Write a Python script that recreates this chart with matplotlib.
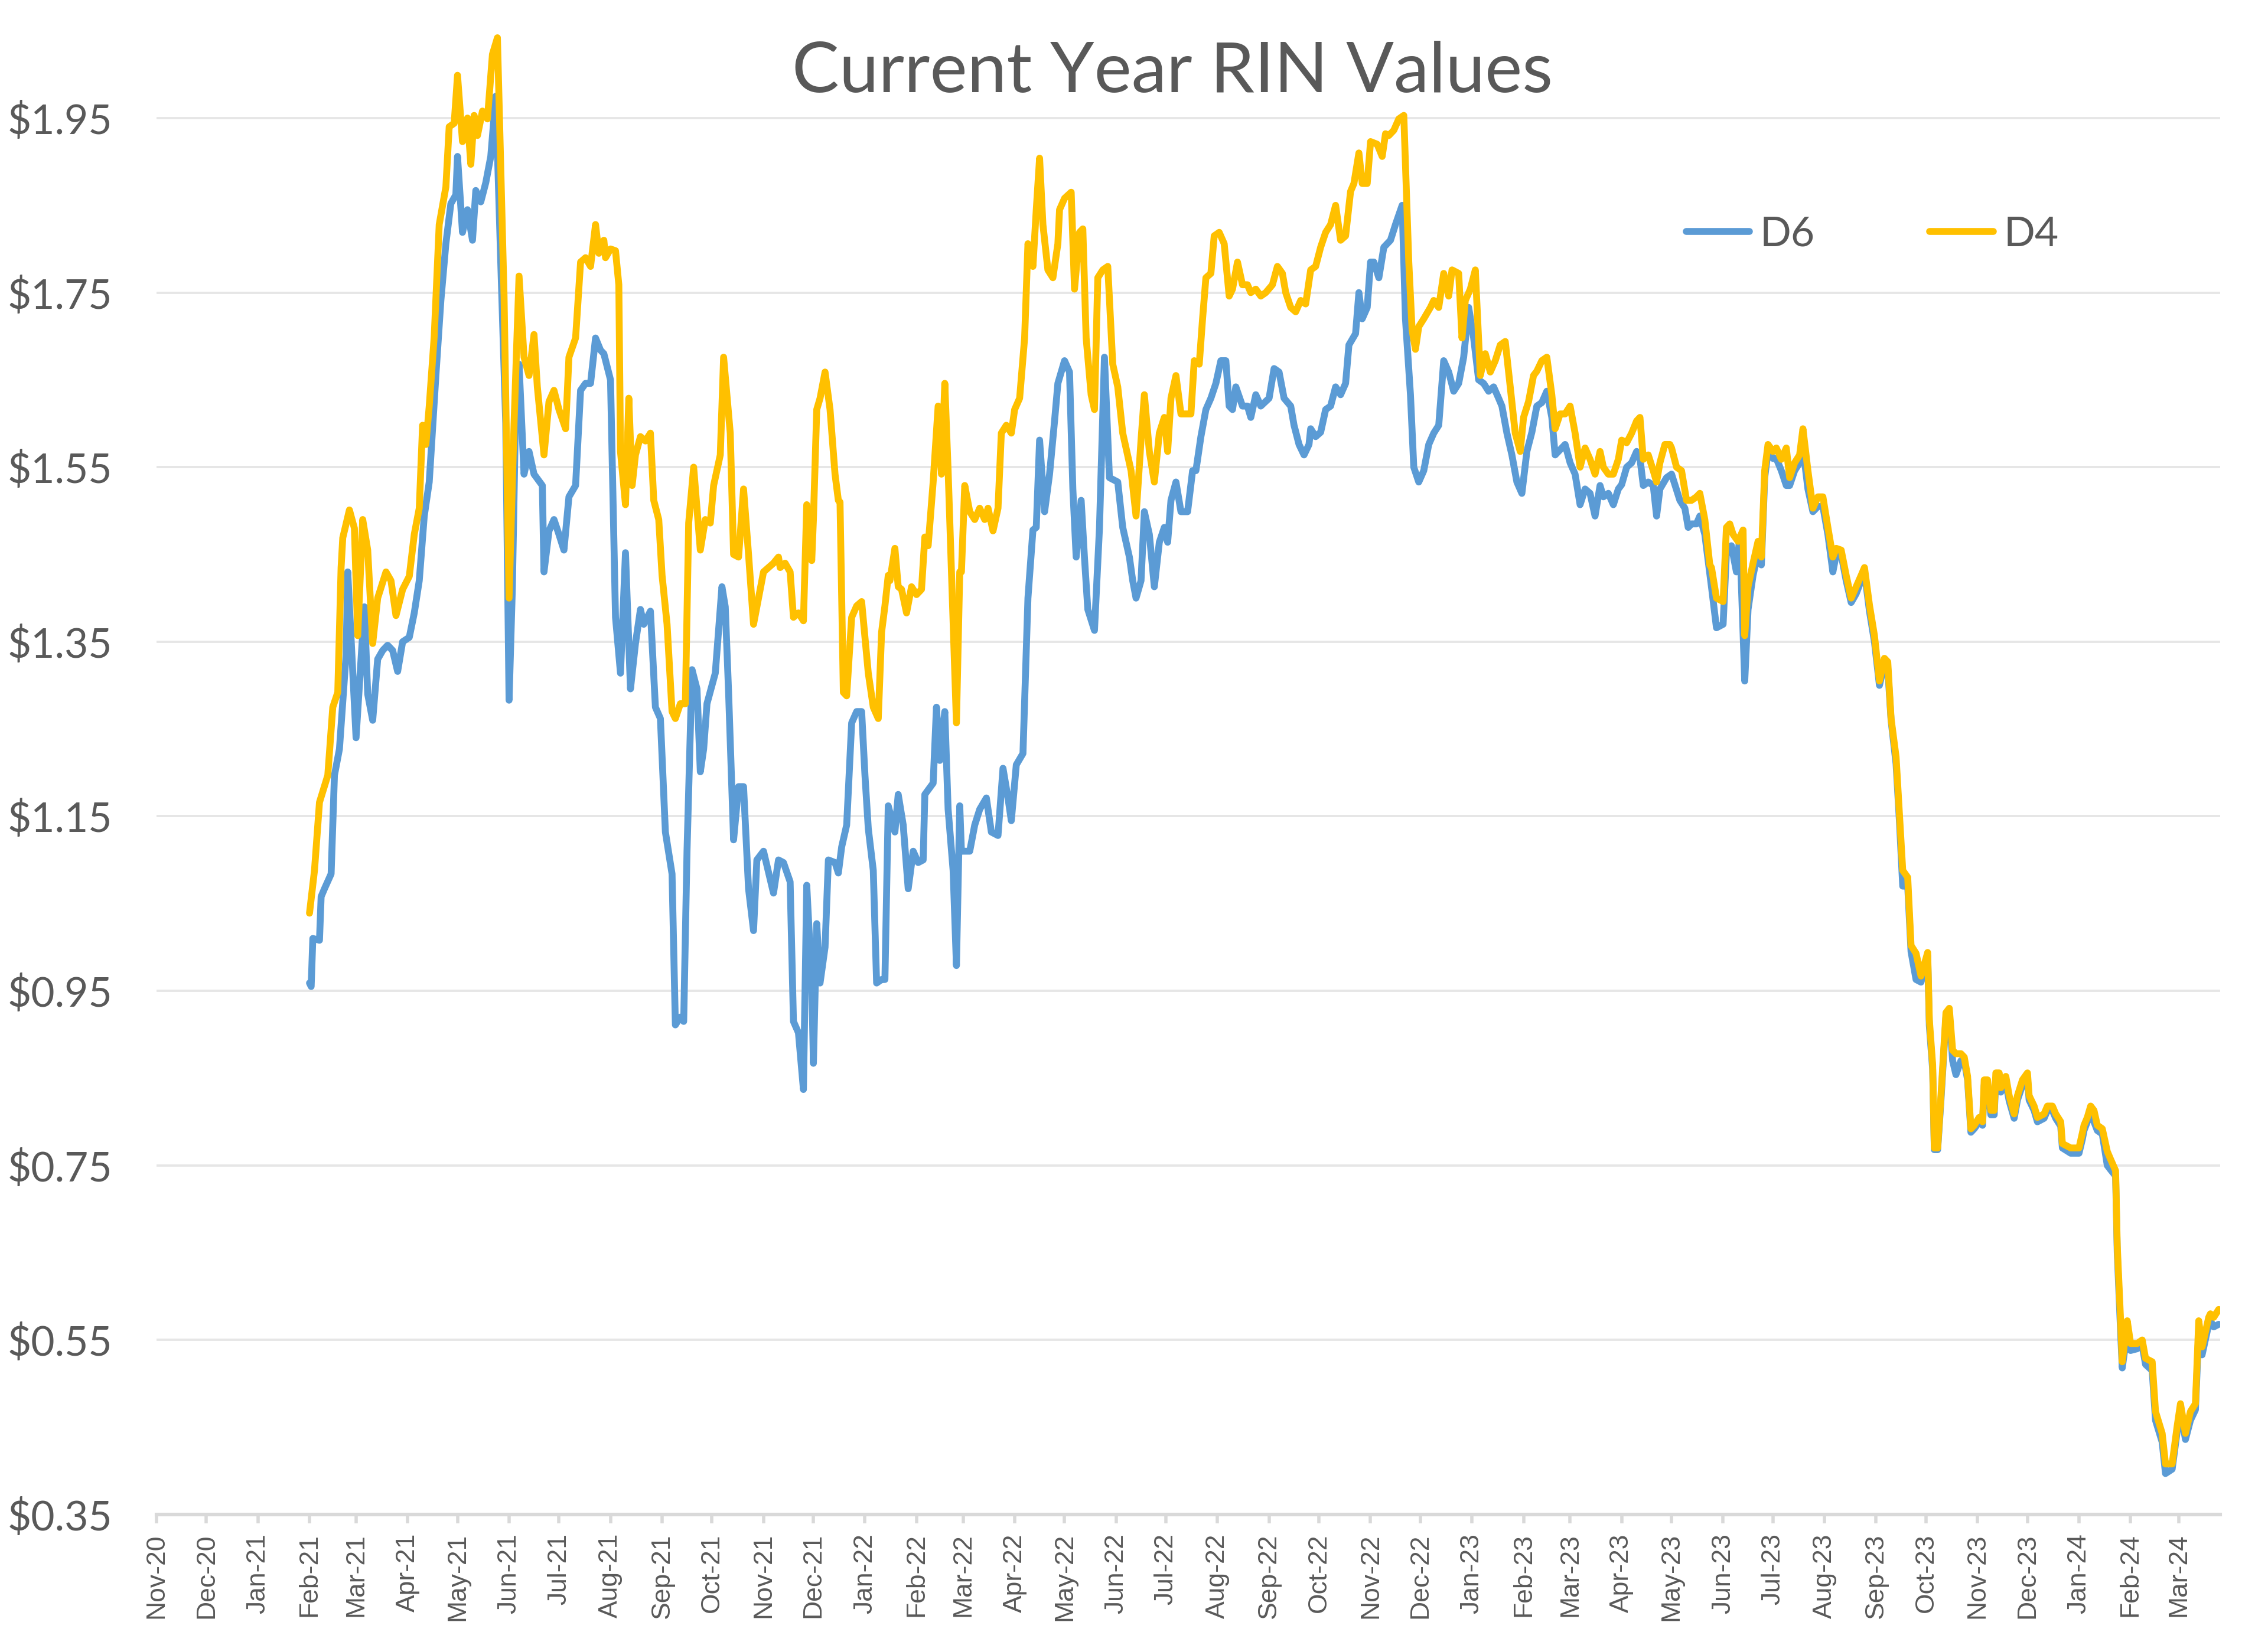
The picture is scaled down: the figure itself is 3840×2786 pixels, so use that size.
import numpy as np
import pandas as pd
import matplotlib
matplotlib.use("Agg")
import matplotlib.pyplot as plt
import matplotlib.dates as mdates
from matplotlib.ticker import FuncFormatter

# D6 RIN price
d6_dates = [
    "2021-02-01", "2021-02-02", "2021-02-03", "2021-02-07", "2021-02-08", "2021-02-10", "2021-02-14", "2021-02-16",
    "2021-02-19", "2021-02-23", "2021-02-24", "2021-03-01", "2021-03-06", "2021-03-08", "2021-03-11", "2021-03-14",
    "2021-03-17", "2021-03-20", "2021-03-23", "2021-03-26", "2021-03-29", "2021-04-02", "2021-04-05", "2021-04-08",
    "2021-04-11", "2021-04-14", "2021-04-18", "2021-04-21", "2021-04-24", "2021-04-27", "2021-04-30", "2021-05-01",
    "2021-05-04", "2021-05-07", "2021-05-10", "2021-05-12", "2021-05-15", "2021-05-18", "2021-05-21", "2021-05-24",
    "2021-05-27", "2021-05-30", "2021-06-01", "2021-06-03", "2021-06-05", "2021-06-07", "2021-06-10", "2021-06-13",
    "2021-06-16", "2021-06-21", "2021-06-22", "2021-06-25", "2021-06-28", "2021-07-01", "2021-07-04", "2021-07-07",
    "2021-07-11", "2021-07-14", "2021-07-17", "2021-07-20", "2021-07-23", "2021-07-26", "2021-07-28", "2021-08-01",
    "2021-08-04", "2021-08-07", "2021-08-10", "2021-08-13", "2021-08-16", "2021-08-19", "2021-08-21", "2021-08-25",
    "2021-08-28", "2021-08-31", "2021-09-03", "2021-09-07", "2021-09-09", "2021-09-12", "2021-09-14", "2021-09-16",
    "2021-09-19", "2021-09-22", "2021-09-24", "2021-09-26", "2021-09-28", "2021-10-03", "2021-10-07", "2021-10-09",
    "2021-10-11", "2021-10-14", "2021-10-17", "2021-10-20", "2021-10-23", "2021-10-26", "2021-10-28", "2021-11-01",
    "2021-11-07", "2021-11-10", "2021-11-13", "2021-11-17", "2021-11-19", "2021-11-22", "2021-11-25", "2021-11-27",
    "2021-11-30", "2021-12-01", "2021-12-03", "2021-12-05", "2021-12-08", "2021-12-10", "2021-12-14", "2021-12-16",
    "2021-12-18", "2021-12-21", "2021-12-24", "2021-12-27", "2021-12-30", "2022-01-01", "2022-01-03", "2022-01-06",
    "2022-01-08", "2022-01-11", "2022-01-13", "2022-01-15", "2022-01-19", "2022-01-21", "2022-01-24", "2022-01-27",
    "2022-01-30", "2022-02-02", "2022-02-05", "2022-02-06", "2022-02-11", "2022-02-13", "2022-02-15", "2022-02-18",
    "2022-02-20", "2022-02-23", "2022-02-25", "2022-02-27", "2022-02-28", "2022-03-03", "2022-03-05", "2022-03-08",
    "2022-03-11", "2022-03-15", "2022-03-18", "2022-03-22", "2022-03-25", "2022-03-28", "2022-03-30", "2022-04-02",
    "2022-04-06", "2022-04-09", "2022-04-12", "2022-04-14", "2022-04-16", "2022-04-19", "2022-04-22", "2022-04-25",
    "2022-04-27", "2022-05-01", "2022-05-04", "2022-05-06", "2022-05-08", "2022-05-11", "2022-05-13", "2022-05-15",
    "2022-05-19", "2022-05-22", "2022-05-25", "2022-05-28", "2022-06-02", "2022-06-05", "2022-06-09", "2022-06-11",
    "2022-06-13", "2022-06-16", "2022-06-18", "2022-06-21", "2022-06-24", "2022-06-27", "2022-06-30", "2022-07-02",
    "2022-07-04", "2022-07-07", "2022-07-10", "2022-07-14", "2022-07-17", "2022-07-19", "2022-07-22", "2022-07-25",
    "2022-07-28", "2022-07-31", "2022-08-03", "2022-08-06", "2022-08-08", "2022-08-10", "2022-08-12", "2022-08-16",
    "2022-08-19", "2022-08-21", "2022-08-24", "2022-08-27", "2022-09-01", "2022-09-04", "2022-09-07", "2022-09-10",
    "2022-09-14", "2022-09-16", "2022-09-19", "2022-09-22", "2022-09-25", "2022-09-26", "2022-09-29", "2022-10-02",
    "2022-10-05", "2022-10-08", "2022-10-11", "2022-10-14", "2022-10-17", "2022-10-19", "2022-10-23", "2022-10-25",
    "2022-10-27", "2022-10-30", "2022-11-01", "2022-11-03", "2022-11-06", "2022-11-09", "2022-11-13", "2022-11-16",
    "2022-11-20", "2022-11-22", "2022-11-25", "2022-11-27", "2022-11-30", "2022-12-03", "2022-12-06", "2022-12-09",
    "2022-12-12", "2022-12-15", "2022-12-18", "2022-12-21", "2022-12-24", "2022-12-27", "2022-12-30", "2023-01-02",
    "2023-01-05", "2023-01-08", "2023-01-11", "2023-01-14", "2023-01-17", "2023-01-19", "2023-01-22", "2023-01-25",
    "2023-01-28", "2023-01-31", "2023-02-03", "2023-02-06", "2023-02-09", "2023-02-12", "2023-02-15", "2023-02-18",
    "2023-02-20", "2023-02-23", "2023-02-26", "2023-03-01", "2023-03-04", "2023-03-07", "2023-03-10", "2023-03-13",
    "2023-03-16", "2023-03-19", "2023-03-21", "2023-03-24", "2023-03-27", "2023-03-30", "2023-04-01", "2023-04-04",
    "2023-04-07", "2023-04-10", "2023-04-12", "2023-04-14", "2023-04-17", "2023-04-20", "2023-04-22", "2023-04-24",
    "2023-04-28", "2023-05-01", "2023-05-03", "2023-05-06", "2023-05-09", "2023-05-11", "2023-05-13", "2023-05-16",
    "2023-05-18", "2023-05-21", "2023-05-25", "2023-05-28", "2023-06-01", "2023-06-03", "2023-06-06", "2023-06-09",
    "2023-06-11", "2023-06-14", "2023-06-16", "2023-06-19", "2023-06-22", "2023-06-24", "2023-06-26", "2023-06-28",
    "2023-07-01", "2023-07-03", "2023-07-06", "2023-07-09", "2023-07-11", "2023-07-14", "2023-07-17", "2023-07-19",
    "2023-07-22", "2023-07-25", "2023-07-28", "2023-07-31", "2023-08-03", "2023-08-06", "2023-08-08", "2023-08-11",
    "2023-08-14", "2023-08-17", "2023-08-20", "2023-08-23", "2023-08-25", "2023-08-28", "2023-08-31", "2023-09-03",
    "2023-09-06", "2023-09-08", "2023-09-10", "2023-09-13", "2023-09-15", "2023-09-17", "2023-09-20", "2023-09-22",
    "2023-09-25", "2023-09-28",
    "2023-10-02", "2023-10-03", "2023-10-05", "2023-10-06", "2023-10-08", "2023-10-10", "2023-10-13", "2023-10-15",
    "2023-10-17", "2023-10-19", "2023-10-22", "2023-10-24", "2023-10-26", "2023-10-28", "2023-10-30", "2023-11-02",
    "2023-11-04", "2023-11-05", "2023-11-07", "2023-11-09", "2023-11-11", "2023-11-12", "2023-11-14", "2023-11-15",
    "2023-11-18", "2023-11-20", "2023-11-23", "2023-11-25", "2023-11-28", "2023-12-01", "2023-12-02", "2023-12-05",
    "2023-12-07", "2023-12-11", "2023-12-13", "2023-12-16", "2023-12-18", "2023-12-21", "2023-12-22", "2023-12-27",
    "2024-01-01", "2024-01-03", "2024-01-04", "2024-01-06", "2024-01-08", "2024-01-10", "2024-01-12", "2024-01-15",
    "2024-01-18", "2024-01-20", "2024-01-23", "2024-01-24", "2024-01-26", "2024-01-27", "2024-01-30", "2024-02-01",
    "2024-02-05", "2024-02-08", "2024-02-10", "2024-02-14", "2024-02-16", "2024-02-20", "2024-02-22", "2024-02-26",
    "2024-02-29", "2024-03-02", "2024-03-05", "2024-03-08", "2024-03-11", "2024-03-13", "2024-03-15", "2024-03-19",
    "2024-03-20", "2024-03-22", "2024-03-25",
]
d6_vals = [
    0.959, 0.955, 1.010, 1.008, 1.058, 1.067, 1.084, 1.197,
    1.227, 1.335, 1.430, 1.240, 1.390, 1.290, 1.260, 1.330,
    1.340, 1.346, 1.340, 1.316, 1.350, 1.355, 1.383, 1.420,
    1.494, 1.533, 1.655, 1.741, 1.806, 1.852, 1.862, 1.906,
    1.819, 1.845, 1.810, 1.867, 1.854, 1.876, 1.906, 1.975,
    1.785, 1.600, 1.283, 1.413, 1.620, 1.668, 1.542, 1.568,
    1.542, 1.529, 1.430, 1.477, 1.490, 1.473, 1.455, 1.516,
    1.529, 1.638, 1.646, 1.646, 1.698, 1.684, 1.680, 1.650,
    1.378, 1.314, 1.452, 1.296, 1.348, 1.387, 1.370, 1.385,
    1.275, 1.262, 1.132, 1.084, 0.911, 0.920, 0.915, 1.110,
    1.318, 1.296, 1.201, 1.227, 1.279, 1.314, 1.413, 1.390,
    1.292, 1.123, 1.184, 1.184, 1.067, 1.019, 1.100, 1.110,
    1.062, 1.100, 1.097, 1.075, 0.915, 0.902, 0.837, 1.071,
    0.959, 0.867, 1.027, 0.959, 1.000, 1.100, 1.097, 1.085,
    1.115, 1.140, 1.257, 1.270, 1.270, 1.197, 1.136, 1.088,
    0.959, 0.963, 0.963, 1.162, 1.132, 1.175, 1.140, 1.067,
    1.110, 1.097, 1.100, 1.175, 1.188, 1.275, 1.214, 1.270,
    1.158, 1.088, 0.979, 1.162, 1.110, 1.110, 1.110, 1.140,
    1.158, 1.171, 1.132, 1.128, 1.205, 1.171, 1.145, 1.209,
    1.222, 1.400, 1.478, 1.481, 1.581, 1.499, 1.542, 1.603,
    1.646, 1.672, 1.659, 1.525, 1.447, 1.512, 1.446, 1.387,
    1.363, 1.480, 1.676, 1.538, 1.533, 1.481, 1.447, 1.420,
    1.400, 1.420, 1.499, 1.473, 1.413, 1.464, 1.481, 1.464,
    1.512, 1.533, 1.499, 1.499, 1.546, 1.546, 1.585, 1.616,
    1.629, 1.646, 1.672, 1.672, 1.620, 1.616, 1.642, 1.620,
    1.620, 1.607, 1.633, 1.620, 1.629, 1.663, 1.659, 1.629,
    1.620, 1.598, 1.576, 1.564, 1.576, 1.594, 1.585, 1.590,
    1.616, 1.620, 1.642, 1.633, 1.646, 1.690, 1.703, 1.750,
    1.720, 1.733, 1.785, 1.785, 1.767, 1.802, 1.810, 1.828,
    1.850, 1.720, 1.633, 1.550, 1.533, 1.546, 1.576, 1.589,
    1.598, 1.672, 1.659, 1.637, 1.646, 1.676, 1.733, 1.698,
    1.650, 1.646, 1.637, 1.642, 1.629, 1.620, 1.589, 1.564,
    1.533, 1.520, 1.568, 1.590, 1.620, 1.624, 1.637, 1.607,
    1.564, 1.570, 1.576, 1.555, 1.542, 1.507, 1.525, 1.520,
    1.494, 1.529, 1.516, 1.520, 1.507, 1.525, 1.530, 1.550,
    1.555, 1.568, 1.560, 1.529, 1.533, 1.529, 1.494, 1.525,
    1.538, 1.542, 1.530, 1.512, 1.503, 1.481, 1.485, 1.485,
    1.494, 1.473, 1.413, 1.366, 1.370, 1.452, 1.460, 1.430,
    1.470, 1.305, 1.387, 1.426, 1.452, 1.438, 1.538, 1.568,
    1.560, 1.560, 1.546, 1.529, 1.529, 1.546, 1.555, 1.572,
    1.525, 1.499, 1.505, 1.505, 1.473, 1.430, 1.450, 1.450,
    1.420, 1.395, 1.405, 1.420, 1.430, 1.385, 1.350, 1.300,
    1.325, 1.320, 1.260, 1.210, 1.145, 1.070, 1.070, 0.995,
    0.963, 0.960,
    0.990, 0.910, 0.860, 0.768, 0.768, 0.825, 0.920, 0.925,
    0.870, 0.854, 0.870, 0.870, 0.848, 0.788, 0.792, 0.800,
    0.796, 0.842, 0.842, 0.808, 0.808, 0.850, 0.850, 0.834,
    0.845, 0.824, 0.804, 0.825, 0.842, 0.850, 0.825, 0.813,
    0.800, 0.804, 0.813, 0.813, 0.804, 0.795, 0.770, 0.764,
    0.764, 0.780, 0.790, 0.800, 0.812, 0.800, 0.790, 0.786,
    0.750, 0.745, 0.738, 0.650, 0.560, 0.518, 0.560, 0.538,
    0.540, 0.544, 0.522, 0.515, 0.458, 0.433, 0.397, 0.402,
    0.445, 0.470, 0.436, 0.458, 0.470, 0.560, 0.533, 0.568,
    0.572, 0.565, 0.568,
]

# D4 RIN price
d4_dates = [
    "2021-02-01", "2021-02-04", "2021-02-07", "2021-02-12", "2021-02-15", "2021-02-18", "2021-02-20", "2021-02-21",
    "2021-02-25", "2021-02-28", "2021-03-02", "2021-03-05", "2021-03-08", "2021-03-11", "2021-03-14", "2021-03-19",
    "2021-03-22", "2021-03-25", "2021-03-29", "2021-04-02", "2021-04-05", "2021-04-08", "2021-04-10", "2021-04-12",
    "2021-04-14", "2021-04-17", "2021-04-20", "2021-04-24", "2021-04-26", "2021-04-29", "2021-05-01", "2021-05-04",
    "2021-05-07", "2021-05-09", "2021-05-11", "2021-05-13", "2021-05-16", "2021-05-19", "2021-05-22", "2021-05-25",
    "2021-05-27", "2021-05-29", "2021-06-01", "2021-06-04", "2021-06-07", "2021-06-10", "2021-06-13", "2021-06-16",
    "2021-06-18", "2021-06-22", "2021-06-25", "2021-06-28", "2021-07-01", "2021-07-05", "2021-07-07", "2021-07-11",
    "2021-07-14", "2021-07-17", "2021-07-20", "2021-07-23", "2021-07-25", "2021-07-28", "2021-07-29", "2021-08-01",
    "2021-08-04", "2021-08-06", "2021-08-07", "2021-08-10", "2021-08-12", "2021-08-14", "2021-08-16", "2021-08-19",
    "2021-08-22", "2021-08-25", "2021-08-27", "2021-08-30", "2021-09-01", "2021-09-04", "2021-09-07", "2021-09-09",
    "2021-09-12", "2021-09-15", "2021-09-17", "2021-09-20", "2021-09-24", "2021-09-27", "2021-09-30", "2021-10-02",
    "2021-10-06", "2021-10-08", "2021-10-12", "2021-10-14", "2021-10-17", "2021-10-20", "2021-10-23", "2021-10-26",
    "2021-10-29", "2021-11-01", "2021-11-07", "2021-11-10", "2021-11-11", "2021-11-14", "2021-11-17", "2021-11-19",
    "2021-11-22", "2021-11-25", "2021-11-27", "2021-11-30", "2021-12-01", "2021-12-03", "2021-12-05", "2021-12-08",
    "2021-12-11", "2021-12-14", "2021-12-16", "2021-12-17", "2021-12-19", "2021-12-21", "2021-12-24", "2021-12-27",
    "2021-12-30", "2022-01-03", "2022-01-06", "2022-01-09", "2022-01-11", "2022-01-13", "2022-01-15", "2022-01-16",
    "2022-01-19", "2022-01-21", "2022-01-23", "2022-01-26", "2022-01-29", "2022-02-01", "2022-02-04", "2022-02-06",
    "2022-02-08", "2022-02-11", "2022-02-14", "2022-02-16", "2022-02-18", "2022-02-20", "2022-02-22", "2022-02-23",
    "2022-02-25", "2022-02-27", "2022-02-28", "2022-03-02", "2022-03-05", "2022-03-08", "2022-03-11", "2022-03-14",
    "2022-03-16", "2022-03-19", "2022-03-22", "2022-03-24", "2022-03-27", "2022-03-30", "2022-04-01", "2022-04-04",
    "2022-04-07", "2022-04-09", "2022-04-12", "2022-04-14", "2022-04-16", "2022-04-18", "2022-04-21", "2022-04-24",
    "2022-04-27", "2022-04-28", "2022-05-01", "2022-05-05", "2022-05-07", "2022-05-10", "2022-05-12", "2022-05-14",
    "2022-05-17", "2022-05-19", "2022-05-21", "2022-05-24", "2022-05-27", "2022-05-30", "2022-06-02", "2022-06-05",
    "2022-06-10", "2022-06-13", "2022-06-16", "2022-06-18", "2022-06-21", "2022-06-24", "2022-06-27", "2022-06-30",
    "2022-07-02", "2022-07-04", "2022-07-07", "2022-07-10", "2022-07-13", "2022-07-16", "2022-07-18", "2022-07-21",
    "2022-07-23", "2022-07-25", "2022-07-28", "2022-07-30", "2022-08-02", "2022-08-05", "2022-08-08", "2022-08-10",
    "2022-08-13", "2022-08-16", "2022-08-19", "2022-08-21", "2022-08-24", "2022-08-27", "2022-08-30", "2022-09-03",
    "2022-09-06", "2022-09-09", "2022-09-11", "2022-09-14", "2022-09-17", "2022-09-20", "2022-09-23", "2022-09-26",
    "2022-09-29", "2022-10-02", "2022-10-05", "2022-10-08", "2022-10-11", "2022-10-14", "2022-10-17", "2022-10-20",
    "2022-10-22", "2022-10-25", "2022-10-27", "2022-10-30", "2022-11-01", "2022-11-05", "2022-11-08", "2022-11-10",
    "2022-11-12", "2022-11-15", "2022-11-18", "2022-11-21", "2022-11-24", "2022-11-26", "2022-11-28", "2022-11-30",
    "2022-12-03", "2022-12-07", "2022-12-09", "2022-12-12", "2022-12-15", "2022-12-18", "2022-12-20", "2022-12-24",
    "2022-12-26", "2022-12-28", "2022-12-31", "2023-01-03", "2023-01-06", "2023-01-09", "2023-01-12", "2023-01-15",
    "2023-01-18", "2023-01-21", "2023-01-24", "2023-01-27", "2023-01-30", "2023-02-01", "2023-02-04", "2023-02-07",
    "2023-02-09", "2023-02-12", "2023-02-15", "2023-02-18", "2023-02-20", "2023-02-23", "2023-02-26", "2023-03-01",
    "2023-03-04", "2023-03-07", "2023-03-10", "2023-03-13", "2023-03-16", "2023-03-19", "2023-03-21", "2023-03-24",
    "2023-03-27", "2023-03-30", "2023-04-01", "2023-04-04", "2023-04-07", "2023-04-10", "2023-04-12", "2023-04-14",
    "2023-04-17", "2023-04-20", "2023-04-22", "2023-04-24", "2023-04-27", "2023-04-30", "2023-05-01", "2023-05-04",
    "2023-05-07", "2023-05-10", "2023-05-13", "2023-05-16", "2023-05-18", "2023-05-21", "2023-05-24", "2023-05-25",
    "2023-05-28", "2023-06-01", "2023-06-03", "2023-06-05", "2023-06-07", "2023-06-10", "2023-06-13", "2023-06-14",
    "2023-06-16", "2023-06-19", "2023-06-22", "2023-06-24", "2023-06-26", "2023-06-28", "2023-07-01", "2023-07-03",
    "2023-07-06", "2023-07-09", "2023-07-11", "2023-07-14", "2023-07-17", "2023-07-19", "2023-07-22", "2023-07-25",
    "2023-07-28", "2023-07-31", "2023-08-03", "2023-08-06", "2023-08-08", "2023-08-11", "2023-08-14", "2023-08-17",
    "2023-08-20", "2023-08-23", "2023-08-25", "2023-08-28", "2023-08-31", "2023-09-03", "2023-09-06", "2023-09-08",
    "2023-09-10", "2023-09-13", "2023-09-15", "2023-09-17", "2023-09-20", "2023-09-22", "2023-09-25", "2023-09-28",
    "2023-10-02", "2023-10-03", "2023-10-05", "2023-10-06", "2023-10-08", "2023-10-10", "2023-10-13", "2023-10-15",
    "2023-10-17", "2023-10-19", "2023-10-22", "2023-10-24", "2023-10-26", "2023-10-28", "2023-10-30", "2023-11-02",
    "2023-11-04", "2023-11-05", "2023-11-07", "2023-11-09", "2023-11-11", "2023-11-12", "2023-11-14", "2023-11-15",
    "2023-11-18", "2023-11-20", "2023-11-23", "2023-11-25", "2023-11-28", "2023-12-01", "2023-12-02", "2023-12-05",
    "2023-12-07", "2023-12-11", "2023-12-13", "2023-12-16", "2023-12-18", "2023-12-21", "2023-12-22", "2023-12-27",
    "2024-01-01", "2024-01-03", "2024-01-04", "2024-01-06", "2024-01-08", "2024-01-10", "2024-01-12", "2024-01-15",
    "2024-01-18", "2024-01-20", "2024-01-23", "2024-01-24", "2024-01-26", "2024-01-27", "2024-01-30", "2024-02-01",
    "2024-02-05", "2024-02-08", "2024-02-10", "2024-02-14", "2024-02-16", "2024-02-20", "2024-02-22", "2024-02-26",
    "2024-02-29", "2024-03-02", "2024-03-05", "2024-03-08", "2024-03-11", "2024-03-13", "2024-03-15", "2024-03-19",
    "2024-03-20", "2024-03-22", "2024-03-25",
]
d4_vals = [
    1.039, 1.088, 1.166, 1.197, 1.275, 1.292, 1.435, 1.469,
    1.501, 1.480, 1.357, 1.490, 1.455, 1.348, 1.400, 1.430,
    1.420, 1.380, 1.410, 1.425, 1.473, 1.503, 1.598, 1.576,
    1.620, 1.700, 1.828, 1.871, 1.940, 1.944, 1.999, 1.923,
    1.950, 1.897, 1.953, 1.930, 1.958, 1.949, 2.023, 2.042,
    1.893, 1.745, 1.400, 1.600, 1.769, 1.676, 1.655, 1.702,
    1.642, 1.564, 1.625, 1.638, 1.616, 1.594, 1.676, 1.698,
    1.785, 1.790, 1.780, 1.828, 1.795, 1.810, 1.790, 1.800,
    1.798, 1.759, 1.568, 1.507, 1.629, 1.529, 1.564, 1.585,
    1.580, 1.589, 1.512, 1.490, 1.426, 1.370, 1.270, 1.262,
    1.279, 1.279, 1.486, 1.550, 1.455, 1.490, 1.486, 1.529,
    1.564, 1.676, 1.589, 1.450, 1.447, 1.525, 1.450, 1.370,
    1.400, 1.430, 1.440, 1.447, 1.435, 1.440, 1.430, 1.378,
    1.383, 1.374, 1.507, 1.443, 1.490, 1.616, 1.629, 1.659,
    1.616, 1.542, 1.512, 1.510, 1.292, 1.288, 1.378, 1.391,
    1.396, 1.314, 1.275, 1.262, 1.361, 1.391, 1.426, 1.420,
    1.457, 1.413, 1.410, 1.383, 1.413, 1.404, 1.410, 1.470,
    1.460, 1.533, 1.620, 1.542, 1.646, 1.546, 1.430, 1.370,
    1.257, 1.430, 1.430, 1.529, 1.499, 1.490, 1.503, 1.490,
    1.503, 1.477, 1.503, 1.589, 1.598, 1.589, 1.616, 1.629,
    1.698, 1.806, 1.780, 1.845, 1.904, 1.828, 1.776, 1.767,
    1.806, 1.845, 1.858, 1.865, 1.754, 1.819, 1.823, 1.698,
    1.633, 1.616, 1.767, 1.776, 1.780, 1.668, 1.642, 1.589,
    1.546, 1.494, 1.581, 1.633, 1.568, 1.533, 1.589, 1.607,
    1.568, 1.629, 1.655, 1.611, 1.611, 1.611, 1.672, 1.668,
    1.720, 1.767, 1.772, 1.815, 1.819, 1.806, 1.746, 1.754,
    1.785, 1.759, 1.759, 1.750, 1.754, 1.746, 1.750, 1.759,
    1.780, 1.772, 1.750, 1.733, 1.728, 1.741, 1.737, 1.776,
    1.780, 1.802, 1.819, 1.828, 1.850, 1.810, 1.815, 1.866,
    1.875, 1.910, 1.875, 1.875, 1.923, 1.920, 1.906, 1.932,
    1.930, 1.936, 1.949, 1.953, 1.785, 1.707, 1.685, 1.711,
    1.720, 1.733, 1.741, 1.733, 1.772, 1.746, 1.776, 1.772,
    1.698, 1.741, 1.754, 1.776, 1.655, 1.680, 1.659, 1.672,
    1.690, 1.694, 1.642, 1.589, 1.568, 1.607, 1.625, 1.655,
    1.660, 1.672, 1.676, 1.633, 1.594, 1.611, 1.611, 1.620,
    1.589, 1.550, 1.572, 1.559, 1.542, 1.568, 1.550, 1.542,
    1.542, 1.559, 1.581, 1.578, 1.589, 1.603, 1.607, 1.559,
    1.564, 1.546, 1.533, 1.555, 1.576, 1.576, 1.572, 1.550,
    1.546, 1.512, 1.512, 1.516, 1.520, 1.490, 1.438, 1.435,
    1.400, 1.396, 1.481, 1.485, 1.473, 1.465, 1.478, 1.357,
    1.413, 1.440, 1.465, 1.447, 1.546, 1.576, 1.568, 1.572,
    1.559, 1.572, 1.538, 1.555, 1.564, 1.594, 1.546, 1.503,
    1.516, 1.516, 1.481, 1.447, 1.457, 1.455, 1.426, 1.400,
    1.413, 1.426, 1.435, 1.392, 1.357, 1.305, 1.331, 1.327,
    1.262, 1.218, 1.153, 1.088, 1.080, 1.002, 0.993, 0.967,
    0.994, 0.917, 0.865, 0.770, 0.770, 0.830, 0.925, 0.930,
    0.882, 0.878, 0.878, 0.874, 0.852, 0.792, 0.796, 0.805,
    0.800, 0.848, 0.848, 0.813, 0.813, 0.856, 0.856, 0.839,
    0.852, 0.830, 0.809, 0.830, 0.848, 0.856, 0.830, 0.818,
    0.805, 0.809, 0.818, 0.818, 0.809, 0.800, 0.775, 0.770,
    0.770, 0.787, 0.796, 0.805, 0.818, 0.813, 0.796, 0.792,
    0.766, 0.757, 0.744, 0.658, 0.572, 0.525, 0.572, 0.546,
    0.546, 0.550, 0.529, 0.525, 0.468, 0.443, 0.408, 0.408,
    0.451, 0.477, 0.443, 0.468, 0.477, 0.572, 0.542, 0.576,
    0.580, 0.576, 0.585,
]

d6_x = pd.to_datetime(d6_dates)
d4_x = pd.to_datetime(d4_dates)

text_col = "#595959"
plt.rcParams["font.family"] = ["Lato", "DejaVu Sans"]

fig = plt.figure(figsize=(19.2, 13.93), dpi=200)
ax = fig.add_axes([0.069, 0.0793, 0.910, 0.902])

ax.plot(d6_x, d6_vals, color="#5B9BD5", lw=4.2, solid_joinstyle="round", solid_capstyle="round", label="D6")
ax.plot(d4_x, d4_vals, color="#FFC000", lw=4.2, solid_joinstyle="round", solid_capstyle="round", label="D4")

ax.set_ylim(0.35, 2.05)
ax.set_yticks(np.arange(0.35, 1.96, 0.2))
ax.yaxis.set_major_formatter(FuncFormatter(lambda v, p: "$%.2f" % v))
ax.set_xlim(pd.Timestamp("2020-11-01"), pd.Timestamp("2024-03-26"))
ax.xaxis.set_major_locator(mdates.MonthLocator())
ax.xaxis.set_major_formatter(mdates.DateFormatter("%b-%y"))

ax.grid(axis="y", color="#E6E6E6", lw=1.4)
ax.set_axisbelow(True)
for s in ["top", "right", "left"]:
    ax.spines[s].set_visible(False)
ax.spines["bottom"].set_color("#D9D9D9")
ax.spines["bottom"].set_linewidth(2.2)

ax.tick_params(axis="y", length=0, pad=27, labelsize=25, labelcolor=text_col)
ax.tick_params(axis="x", length=5.5, width=2.0, color="#D9D9D9", pad=6, labelsize=16,
               labelcolor=text_col, labelrotation=90)
for lab in ax.get_xticklabels():
    lab.set_family(["Liberation Sans", "DejaVu Sans"])

fig.text(0.517, 0.944, "Current Year RIN Values", ha="center", va="baseline",
         fontsize=43, color=text_col)

fig.legend(loc="center", bbox_to_anchor=(0.8255, 0.8575), ncol=2, frameon=False,
           fontsize=25, handlelength=1.55, handletextpad=0.25, columnspacing=2.8,
           labelcolor=text_col)

fig.savefig("out.png", dpi=200)
